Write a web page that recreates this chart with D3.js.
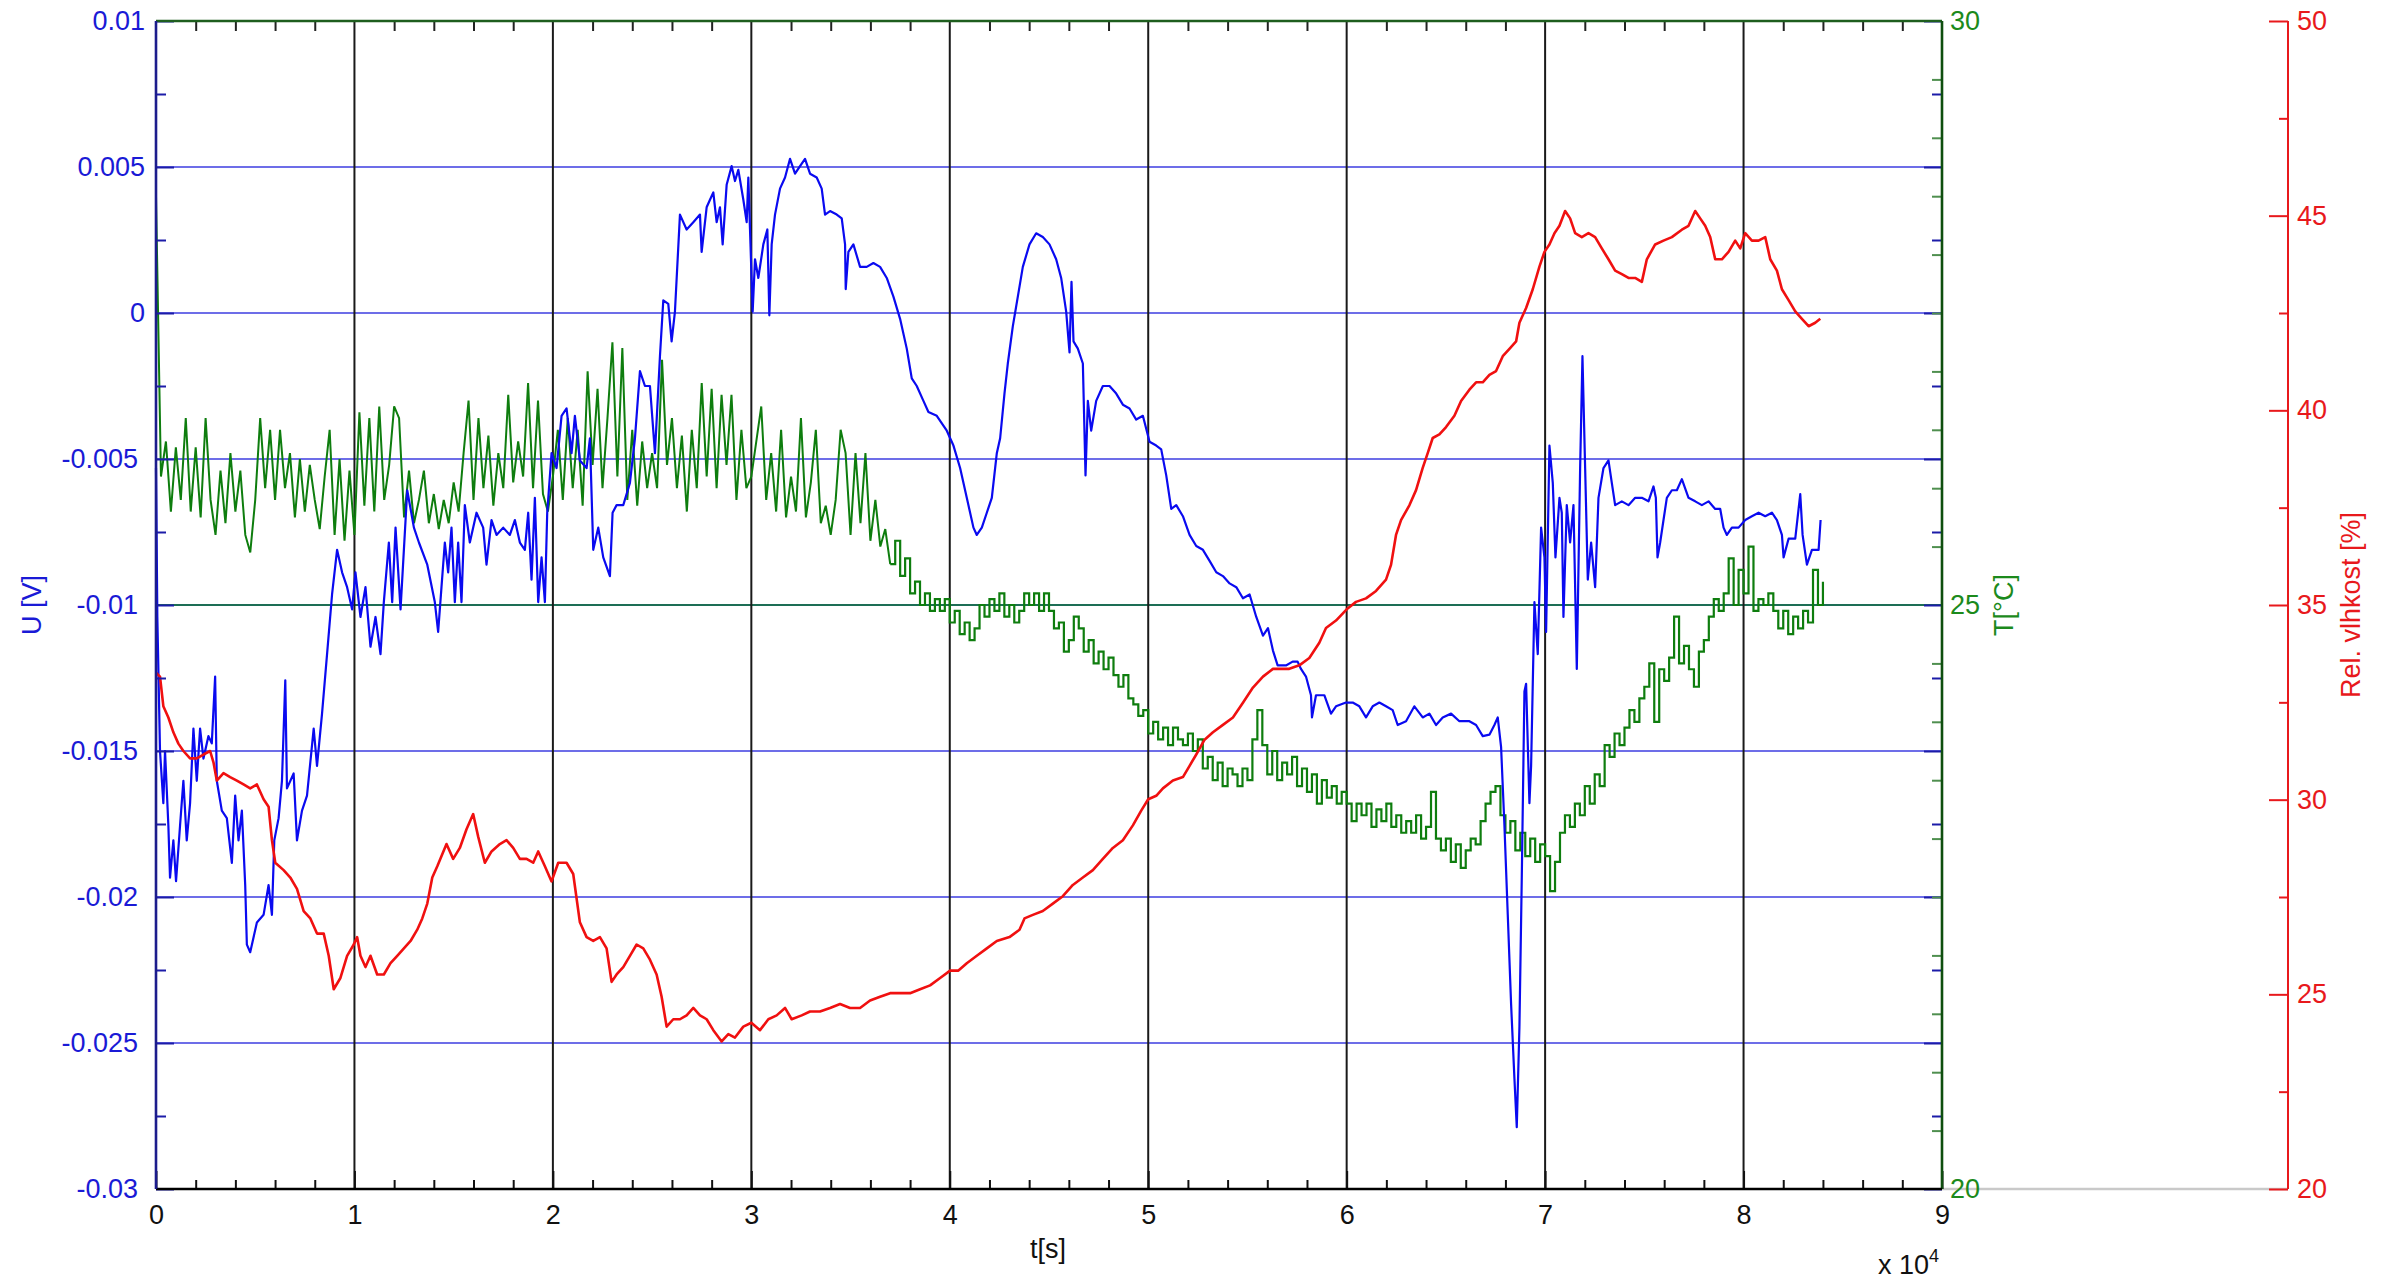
<!DOCTYPE html>
<html>
<head>
<meta charset="utf-8">
<script src="https://cdn.jsdelivr.net/npm/d3@7"></script>
<style>
  body { margin: 0; background: #fff; }
  svg { display: block; font-family: "Liberation Sans", Arial, sans-serif; }
</style>
</head>
<body>
<div id="chart"></div>
<script>
// ---- data ----
// time [s], voltage [V]
const voltage = [
  [0,-0.00531],[67,-0.01041],[202,-0.0150],[370,-0.01679],[455,-0.0150],[623,-0.01755],[707,-0.01934],[875,-0.01806],[1010,-0.01946],[1212,-0.01755],
  [1380,-0.01602],[1549,-0.01806],[1717,-0.01679],[1886,-0.01423],[2054,-0.01602],[2222,-0.01423],[2391,-0.01526],[2643,-0.01449],[2811,-0.01474],[2980,-0.01245],
  [3064,-0.01602],[3316,-0.01704],[3569,-0.0173],[3822,-0.01883],[3990,-0.01653],[4158,-0.01806],[4327,-0.01704],[4495,-0.01959],[4579,-0.02163],[4747,-0.02189],
  [5084,-0.02087],[5421,-0.02061],[5673,-0.01959],[5842,-0.02061],[5960,-0.01806],[6178,-0.0173],[6347,-0.01602],[6515,-0.01258],[6599,-0.01628],[6936,-0.01577],
  [7104,-0.01806],[7357,-0.01704],[7609,-0.01653],[7946,-0.01423],[8114,-0.01551],[8367,-0.01372],[8620,-0.01168],[8872,-0.00964],[9125,-0.00811],[9377,-0.00888],
  [9630,-0.00939],[9882,-0.01015],[10051,-0.00888],[10303,-0.01041],[10556,-0.00939],[10808,-0.01143],[11061,-0.01041],[11313,-0.01168],[11481,-0.0099],[11734,-0.00786],
  [11902,-0.0099],[12071,-0.00735],[12323,-0.01015],[12660,-0.00607],[12997,-0.00735],[13249,-0.00786],[13670,-0.00862],
  [14050,-0.0099],[14218,-0.01092],[14386,-0.00939],[14555,-0.00786],[14723,-0.00888],[14891,-0.00735],[15059,-0.0099],[15227,-0.00786],[15395,-0.0099],[15563,-0.00658],
  [15815,-0.00786],[16151,-0.00684],[16487,-0.00735],[16655,-0.00862],[16908,-0.00709],[17160,-0.0076],[17496,-0.00735],[17832,-0.0076],[18084,-0.00709],[18336,-0.00786],
  [18588,-0.00811],[18756,-0.00684],[18924,-0.00913],[19092,-0.00633],[19260,-0.0099],[19429,-0.00837],[19597,-0.0099],[19714,-0.00684],[19933,-0.0048],[20185,-0.00531],
  [20437,-0.00352],[20689,-0.00327],[20941,-0.0048],[21109,-0.00352],[21361,-0.00505],[21698,-0.00531],[21866,-0.00429],[22034,-0.00811],[22286,-0.00735],[22538,-0.00837],
  [22874,-0.00901],[23008,-0.00684],[23210,-0.00658],[23546,-0.00658],[23882,-0.00582],[24135,-0.00429],[24387,-0.00199],[24639,-0.0025],[24891,-0.0025],[25143,-0.0048],
  [25395,-0.00148],[25563,0.00043],[25815,0.00031],[25983,-0.00097],[26151,0.00005],[26403,0.00337],[26739,0.00286],[27076,0.00311],[27412,0.00337],[27496,0.00209],
  [27748,0.00362],[27916,0.00388],[28084,0.00413],[28252,0.00311],[28420,0.00362],[28555,0.00235],[28756,0.00439],[29008,0.00503],[29176,0.00452],[29345,0.0049],
  [29597,0.00388],[29765,0.00311],[29849,0.00464],[29933,0.00286],[30067,0.00005],[30185,0.00184],[30353,0.0012],[30605,0.00235],[30807,0.00286],[30908,-0.00008],
  [31025,0.00235],[31193,0.00337],[31445,0.00426],[31698,0.00464],[31950,0.00528],[32202,0.00477],[32454,0.00503],[32706,0.00528],[32958,0.00477],[33294,0.00464],
  [33546,0.00426],[33714,0.00337],[33966,0.00349],[34303,0.00337],[34555,0.00324],[34723,0.00235],[34756,0.00082],[34891,0.00209],[35143,0.00235],[35479,0.00158],
  [35815,0.00158],[36151,0.00171],[36487,0.00158],[36824,0.0012],[37160,0.00056],[37496,-0.0002],[37832,-0.00122],[38084,-0.00224],[38336,-0.0025],[38672,-0.00301],
  [38924,-0.00339],[39345,-0.00352],[39849,-0.00403],[40185,-0.00454],[40521,-0.00531],[40857,-0.00633],[41193,-0.00735],[41361,-0.0076],[41614,-0.00735],[41866,-0.00684],
  [42118,-0.00633],[42370,-0.0048],[42538,-0.00429],[42756,-0.00276],[42924,-0.00173],[43176,-0.00046],[43429,0.00056],[43681,0.00158],[44017,0.00235],[44353,0.00273],
  [44689,0.0026],[45025,0.00235],[45361,0.00184],[45613,0.0012],[45866,0.00005],[46034,-0.00135],[46134,0.00107],[46235,-0.00097],[46454,-0.00122],[46706,-0.00173],
  [46840,-0.00556],[46958,-0.00301],[47126,-0.00403],[47378,-0.00301],[47714,-0.0025],[48050,-0.0025],[48387,-0.00276],[48723,-0.00314],[49059,-0.00327],[49395,-0.00365],
  [49731,-0.00352],[50067,-0.00441],[50403,-0.00454],[50655,-0.00467],[50908,-0.00556],[51160,-0.00671],[51412,-0.00658],[51748,-0.00696],[52084,-0.0076],[52420,-0.00798],
  [52756,-0.00811],[53092,-0.00849],[53429,-0.00888],[53765,-0.00901],[54101,-0.00926],[54437,-0.00939],[54773,-0.00977],[55109,-0.00964],[55445,-0.01041],[55782,-0.01105],
  [56034,-0.01079],[56286,-0.01156],[56521,-0.01207],[56941,-0.01207],[57277,-0.01194],[57529,-0.01194],[57697,-0.01219],[57950,-0.01245],[58202,-0.01309],[58252,-0.01385],
  [58454,-0.01309],[58874,-0.01309],[59210,-0.01372],[59462,-0.01347],[59966,-0.01334],[60303,-0.01334],[60639,-0.01347],[60975,-0.01385],[61311,-0.01347],[61647,-0.01334],
  [61983,-0.01347],[62319,-0.0136],[62571,-0.01411],[62992,-0.01398],[63412,-0.01347],[63832,-0.01385],[64168,-0.01372],[64504,-0.01411],[64840,-0.01385],[65261,-0.01372],
  [65681,-0.01398],[66185,-0.01398],[66521,-0.01411],[66857,-0.01449],[67193,-0.01444],[67445,-0.01411],[67613,-0.01385],[67782,-0.01487],[67950,-0.01755],[68118,-0.02061],
  [68286,-0.02367],[68454,-0.02622],[68572,-0.02788],[68706,-0.02444],[68824,-0.01934],[68958,-0.01296],[69042,-0.0127],[69210,-0.01679],[69294,-0.01551],[69462,-0.0099],
  [69630,-0.01168],[69798,-0.00735],[69966,-0.00837],[70050,-0.01092],[70218,-0.00454],[70387,-0.00582],[70521,-0.00837],[70723,-0.00633],[70840,-0.00684],[70924,-0.01041],
  [71092,-0.00658],[71260,-0.00786],[71429,-0.00658],[71597,-0.01219],[71765,-0.00531],[71882,-0.00148],[72017,-0.00531],[72151,-0.00913],[72319,-0.00786],[72521,-0.00939],
  [72689,-0.00633],[72941,-0.00531],[73193,-0.00505],[73361,-0.00582],[73529,-0.00658],[73866,-0.00645],[74202,-0.00658],[74538,-0.00633],[74874,-0.00633],[75210,-0.00645],
  [75462,-0.00594],[75580,-0.00633],[75664,-0.00837],[75798,-0.00786],[75966,-0.00709],[76134,-0.00633],[76387,-0.00607],[76639,-0.00607],[76891,-0.00569],[77227,-0.00633],
  [77563,-0.00645],[77899,-0.00658],[78235,-0.00645],[78571,-0.00671],[78824,-0.00671],[78992,-0.00735],[79160,-0.0076],[79412,-0.00735],[79748,-0.00735],[80084,-0.00709],
  [80420,-0.00696],[80756,-0.00684],[81092,-0.00696],[81429,-0.00684],[81681,-0.00709],[81933,-0.0076],[82017,-0.00837],[82269,-0.00773],[82605,-0.00773],[82857,-0.0062],
  [82975,-0.0076],[83193,-0.00862],[83445,-0.00811],[83782,-0.00811],[83882,-0.00709]
];

// time [s], relative humidity [%]
const humidity = [
  [0,33.26],[202,33.16],[370,32.4],[623,32.11],[875,31.73],[1128,31.44],[1380,31.25],[1717,31.06],[2054,31.06],[2391,31.16],
  [2727,31.25],[2896,30.96],[3064,30.49],[3401,30.68],[3737,30.58],[4074,30.49],[4411,30.39],[4747,30.29],[5084,30.39],[5421,30.01],
  [5673,29.82],[5842,28.96],[6010,28.38],[6431,28.19],[6768,28.0],[7104,27.71],[7441,27.14],[7778,26.95],[8114,26.56],[8451,26.56],
  [8704,25.99],[8956,25.13],[9293,25.42],[9630,25.99],[9966,26.28],[10135,26.47],[10303,25.99],[10556,25.7],[10808,25.99],[11145,25.51],
  [11481,25.51],[11818,25.8],[12155,25.99],[12492,26.18],[12828,26.37],[13165,26.66],[13418,26.95],[13670,27.33],[13922,28.0],[14175,28.29],
  [14639,28.86],[14975,28.48],[15311,28.76],[15647,29.24],[15983,29.63],[16235,29.05],[16571,28.38],[16908,28.67],[17328,28.86],[17664,28.96],
  [18000,28.76],[18336,28.48],[18672,28.48],[19008,28.38],[19260,28.67],[19597,28.29],[19933,27.9],[20269,28.38],[20689,28.38],[21025,28.09],
  [21361,26.85],[21698,26.47],[22034,26.37],[22370,26.47],[22706,26.18],[22958,25.32],[23210,25.51],[23546,25.7],[23882,25.99],[24219,26.28],
  [24555,26.18],[24891,25.89],[25227,25.51],[25479,24.94],[25731,24.17],[26067,24.36],[26403,24.36],[26739,24.46],[27076,24.65],[27412,24.46],
  [27748,24.36],[28084,24.08],[28504,23.79],[28840,23.98],[29176,23.89],[29597,24.17],[30000,24.27],[30437,24.08],[30857,24.36],[31277,24.46],
  [31698,24.65],[32034,24.36],[32538,24.46],[32958,24.56],[33462,24.56],[33966,24.65],[34471,24.75],[34975,24.65],[35479,24.65],[35983,24.84],
  [36487,24.94],[36992,25.03],[37496,25.03],[38000,25.03],[38504,25.13],[39008,25.23],[39513,25.42],[40017,25.61],[40437,25.61],[40857,25.8],
  [41361,25.99],[41866,26.18],[42370,26.37],[43008,26.47],[43513,26.66],[43765,26.95],[44185,27.04],[44689,27.14],[45193,27.33],[45697,27.52],
  [46202,27.81],[46706,28.0],[47210,28.19],[47714,28.48],[48218,28.76],[48723,28.96],[49227,29.34],[49647,29.72],[50000,30.01],[50403,30.1],
  [50740,30.29],[51244,30.49],[51748,30.58],[52084,30.87],[52420,31.16],[52840,31.54],[53261,31.73],[53765,31.92],[54269,32.11],[54773,32.49],
  [55277,32.88],[55782,33.16],[56286,33.36],[57109,33.36],[57613,33.45],[58118,33.64],[58622,34.03],[58958,34.41],[59462,34.6],[60000,34.89],
  [60471,35.08],[60975,35.17],[61479,35.36],[61983,35.65],[62235,36.03],[62487,36.8],[62740,37.18],[63160,37.56],[63496,37.95],[63832,38.52],
  [64084,38.9],[64336,39.29],[64672,39.38],[65008,39.57],[65429,39.86],[65765,40.24],[66185,40.53],[66521,40.72],[66857,40.72],[67193,40.91],
  [67529,41.01],[67866,41.39],[68202,41.58],[68538,41.77],[68706,42.25],[69042,42.63],[69378,43.11],[69714,43.69],[69966,44.07],[70218,44.26],
  [70471,44.55],[70723,44.74],[71008,45.12],[71260,44.93],[71513,44.55],[71849,44.45],[72185,44.55],[72521,44.45],[72857,44.16],[73193,43.88],
  [73529,43.59],[73866,43.5],[74202,43.4],[74538,43.4],[74874,43.3],[75126,43.88],[75546,44.26],[75966,44.36],[76387,44.45],[76891,44.64],
  [77227,44.74],[77563,45.12],[77815,44.93],[78067,44.74],[78319,44.45],[78571,43.88],[78908,43.88],[79244,44.07],[79580,44.36],[79832,44.16],
  [80084,44.55],[80420,44.36],[80756,44.36],[81092,44.45],[81345,43.88],[81681,43.59],[81933,43.11],[82269,42.83],[82605,42.54],[82941,42.35],
  [83277,42.16],[83613,42.25],[83866,42.35]
];

// temperature [°C], one sample every tempStep seconds starting at t = 0
const tempStep = 250;
const temperature = [
  28.5,26.1,26.4,25.8,26.35,25.9,26.6,25.8,26.35,25.75,26.6,25.9,25.6,26.15,25.7,26.3,25.8,26.15,25.6,25.45,
  25.9,26.6,26.0,26.5,25.9,26.5,26.0,26.3,25.75,26.25,25.8,26.2,25.9,25.65,26.1,26.5,25.6,26.25,25.55,26.15,
  25.6,26.65,25.85,26.6,25.8,26.7,25.9,26.2,26.7,26.6,25.75,26.15,25.7,25.9,26.15,25.7,25.95,25.65,25.9,25.7,
  26.05,25.8,26.3,26.75,25.9,26.6,26.0,26.45,25.85,26.3,26.0,26.8,26.05,26.4,26.1,26.9,26.0,26.75,25.95,25.8,
  26.1,26.5,25.9,26.6,26.0,26.5,25.85,27.0,26.2,26.85,26.0,26.6,27.25,26.1,27.2,25.9,26.5,25.85,26.4,26.0,
  26.3,26.0,27.1,26.2,26.6,26.0,26.45,25.8,26.5,26.0,26.9,26.1,26.85,26.0,26.8,26.2,26.8,25.9,26.5,26.0,
  26.1,26.4,26.7,25.9,26.3,25.8,26.5,25.75,26.1,25.8,26.6,25.75,26.05,26.5,25.7,25.85,25.6,25.9,26.5,26.3,
  25.6,26.3,25.7,26.3,25.55,25.9,25.5,25.65,25.35,25.55,25.25,25.4,25.1,25.2,25.0,25.1,24.95,25.05,24.95,25.05,
  24.85,24.95,24.75,24.85,24.7,24.8,25.0,24.9,25.05,24.95,25.1,24.9,25.0,24.85,24.95,25.1,25.0,25.1,24.95,25.1,
  24.95,24.8,24.85,24.6,24.7,24.9,24.8,24.6,24.7,24.5,24.6,24.45,24.55,24.4,24.3,24.4,24.2,24.15,24.05,24.1,
  23.9,24.0,23.85,23.95,23.8,23.95,23.85,23.8,23.9,23.75,23.85,23.6,23.7,23.5,23.65,23.45,23.6,23.55,23.45,23.6,
  23.5,23.85,24.1,23.8,23.55,23.75,23.5,23.65,23.55,23.7,23.45,23.6,23.4,23.55,23.3,23.5,23.35,23.45,23.3,23.4,
  23.3,23.15,23.3,23.2,23.3,23.1,23.25,23.15,23.3,23.1,23.2,23.05,23.15,23.05,23.2,23.0,23.1,23.4,23.0,22.9,
  23.0,22.8,22.95,22.75,22.9,23.0,22.95,23.15,23.3,23.4,23.45,23.2,23.05,23.15,22.9,23.05,22.85,23.0,22.8,22.95,
  22.85,22.55,22.8,23.05,23.2,23.1,23.3,23.2,23.45,23.3,23.55,23.45,23.8,23.7,23.9,23.8,23.95,24.1,24.0,24.2,
  24.3,24.5,24.0,24.45,24.35,24.55,24.9,24.5,24.65,24.45,24.3,24.6,24.7,24.9,25.05,24.95,25.1,25.4,25.0,25.3,
  25.1,25.5,24.95,25.05,25.0,25.1,24.95,24.8,24.95,24.75,24.9,24.8,24.95,24.85,25.3,25.0,25.2
];
// the fast-fluctuating part of the temperature record ends here (index into temperature)
const tempNoisyEnd = 148;

// ticks
const xMajor = [0, 10000, 20000, 30000, 40000, 50000, 60000, 70000, 80000, 90000];
const xMinor = d3.range(0, 90001, 2000).filter(v => v % 10000 !== 0);
const uMajor = [-0.03, -0.025, -0.02, -0.015, -0.01, -0.005, 0, 0.005, 0.01];
const uMinor = [-0.0275, -0.0225, -0.0175, -0.0125, -0.0075, -0.0025, 0.0025, 0.0075];
const tLabels = [20, 25, 30];
const tMinor = d3.range(20.5, 30, 0.5).filter(v => v !== 25);
const hMajor = [20, 25, 30, 35, 40, 45, 50];
const hMinor = [22.5, 27.5, 32.5, 37.5, 42.5, 47.5];

// ---- layout ----
const W = 2389, H = 1282;
const plotL = 156, plotR = 1942, plotT = 21, plotB = 1189, humX = 2288;
const fs = 27;

const blue = "#1a1ad6", green = "#1c8a1c", red = "#e8191c";

const x = d3.scaleLinear().domain([0, 90000]).range([plotL, plotR]);
const yU = d3.scaleLinear().domain([-0.03, 0.01]).range([plotB, plotT]);
const yT = d3.scaleLinear().domain([20, 30]).range([plotB, plotT]);
const yH = d3.scaleLinear().domain([20, 50]).range([plotB, plotT]);

const svg = d3.select("#chart").append("svg")
    .attr("width", W)
    .attr("height", H)
    .attr("viewBox", [0, 0, W, H]);

// grey base line running out to the humidity axis
svg.append("line")
    .attr("x1", plotR).attr("x2", humX)
    .attr("y1", plotB).attr("y2", plotB)
    .attr("stroke", "#c9c9c9").attr("stroke-width", 2.5);

// horizontal grid (voltage)
svg.append("g")
  .selectAll("line")
  .data(uMajor.filter(v => v > -0.03 && v < 0.01))
  .join("line")
    .attr("x1", plotL).attr("x2", plotR)
    .attr("y1", d => yU(d)).attr("y2", d => yU(d))
    .attr("stroke", "#3c3ce0").attr("stroke-width", 1.6);

// temperature grid line at 25 °C sits on the -0.01 V line
svg.append("line")
    .attr("x1", plotL).attr("x2", plotR)
    .attr("y1", yT(25)).attr("y2", yT(25))
    .attr("stroke", "#1d6e55").attr("stroke-width", 2);

// vertical grid
svg.append("g")
  .selectAll("line")
  .data(xMajor.slice(1, -1))
  .join("line")
    .attr("x1", d => x(d)).attr("x2", d => x(d))
    .attr("y1", plotT).attr("y2", plotB)
    .attr("stroke", "#1a1a1a").attr("stroke-width", 2);

// ---- series ----
const tempPts = temperature.map((v, i) => [i * tempStep, v]);

svg.append("path")
    .datum(tempPts.slice(0, tempNoisyEnd + 1))
    .attr("fill", "none")
    .attr("stroke", "#0e7d0e")
    .attr("stroke-width", 2)
    .attr("d", d3.line().x(d => x(d[0])).y(d => yT(d[1])));

svg.append("path")
    .datum(tempPts.slice(tempNoisyEnd))
    .attr("fill", "none")
    .attr("stroke", "#0e7d0e")
    .attr("stroke-width", 2.2)
    .attr("d", d3.line().curve(d3.curveStepAfter).x(d => x(d[0])).y(d => yT(d[1])));

svg.append("path")
    .datum(voltage)
    .attr("fill", "none")
    .attr("stroke", "#0a0af0")
    .attr("stroke-width", 2.2)
    .attr("stroke-linejoin", "round")
    .attr("d", d3.line().x(d => x(d[0])).y(d => yU(d[1])));

svg.append("path")
    .datum(humidity)
    .attr("fill", "none")
    .attr("stroke", "#f01010")
    .attr("stroke-width", 2.6)
    .attr("stroke-linejoin", "round")
    .attr("d", d3.line().x(d => x(d[0])).y(d => yH(d[1])));

// ---- axes ----
function clean(g, color, sw) {
  g.select(".domain").remove();
  g.selectAll(".tick line").attr("stroke", color).attr("stroke-width", sw || 2);
  g.selectAll(".tick text").attr("fill", color).attr("font-size", fs)
    .attr("font-family", "'Liberation Sans', Arial, sans-serif");
}

const fmtU = d => d === 0 ? "0" : String(+d.toFixed(4));

// bottom
svg.append("g").attr("transform", `translate(0,${plotB})`)
    .call(d3.axisBottom(x).tickValues(xMinor).tickSize(-9).tickFormat(""))
    .call(g => clean(g, "#111"));
svg.append("g").attr("transform", `translate(0,${plotB})`)
    .call(d3.axisBottom(x).tickValues(xMajor).tickSize(-18).tickPadding(16).tickFormat(d => d / 10000))
    .call(g => clean(g, "#111"));
// top
svg.append("g").attr("transform", `translate(0,${plotT})`)
    .call(d3.axisTop(x).tickValues(xMinor).tickSize(-10).tickFormat(""))
    .call(g => clean(g, "#222"));

// left voltage axis
svg.append("g").attr("transform", `translate(${plotL},0)`)
    .call(d3.axisLeft(yU).tickValues(uMinor).tickSize(-10).tickFormat(""))
    .call(g => clean(g, "#1c1ca8"));
svg.append("g").attr("transform", `translate(${plotL},0)`)
    .call(d3.axisLeft(yU).tickValues(uMajor).tickSize(-18).tickPadding(11).tickFormat(fmtU))
    .call(g => clean(g, "#1c1ca8"))
    .call(g => g.selectAll(".tick text").attr("fill", blue).attr("dx", d => d < 0 ? -7 : 0));

// right side: voltage ticks and temperature axis
svg.append("g").attr("transform", `translate(${plotR},0)`)
    .call(d3.axisRight(yU).tickValues(uMinor).tickSize(-10).tickFormat(""))
    .call(g => clean(g, "#1c1ca8"));
svg.append("g").attr("transform", `translate(${plotR},0)`)
    .call(d3.axisRight(yU).tickValues(uMajor).tickSize(-18).tickFormat(""))
    .call(g => clean(g, "#1c1ca8"));
svg.append("g").attr("transform", `translate(${plotR},0)`)
    .call(d3.axisRight(yT).tickValues(tMinor).tickSize(-10).tickFormat(""))
    .call(g => clean(g, "#4f8f4f"));
svg.append("g").attr("transform", `translate(${plotR},0)`)
    .call(d3.axisRight(yT).tickValues(tLabels).tickSize(0).tickPadding(8))
    .call(g => clean(g, green));

// humidity axis
svg.append("g").attr("transform", `translate(${humX},0)`)
    .call(d3.axisRight(yH).tickValues(hMinor).tickSize(-9).tickFormat(""))
    .call(g => clean(g, red));
svg.append("g").attr("transform", `translate(${humX},0)`)
    .call(d3.axisRight(yH).tickValues(hMajor).tickSize(-19).tickPadding(9))
    .call(g => clean(g, red));

// frame
const frame = [
  {x1: plotL, y1: plotT, x2: plotR, y2: plotT, c: "#1e5e1e"},
  {x1: plotR, y1: plotT, x2: plotR, y2: plotB, c: "#0f4f0f"},
  {x1: plotL, y1: plotB, x2: plotR, y2: plotB, c: "#000"},
  {x1: plotL, y1: plotT, x2: plotL, y2: plotB, c: "#1c1c8c"},
  {x1: humX, y1: plotT, x2: humX, y2: plotB, c: red}
];
svg.append("g").selectAll("line").data(frame).join("line")
    .attr("x1", d => d.x1).attr("y1", d => d.y1)
    .attr("x2", d => d.x2).attr("y2", d => d.y2)
    .attr("stroke", d => d.c)
    .attr("stroke-width", d => d.c === red ? 2 : 2.6);

// ---- axis titles ----
const midY = (plotT + plotB) / 2;
svg.append("text")
    .attr("transform", `translate(32,${midY}) rotate(-90)`)
    .attr("text-anchor", "middle").attr("dominant-baseline", "central")
    .attr("font-size", fs).attr("fill", blue)
    .text("U [V]");

svg.append("text")
    .attr("transform", `translate(2004,${midY}) rotate(-90)`)
    .attr("text-anchor", "middle").attr("dominant-baseline", "central")
    .attr("font-size", fs).attr("fill", green)
    .text("T[°C]");

svg.append("text")
    .attr("transform", `translate(2351,${midY}) rotate(-90)`)
    .attr("text-anchor", "middle").attr("dominant-baseline", "central")
    .attr("font-size", fs).attr("fill", red)
    .text("Rel. vlhkost [%]");

svg.append("text")
    .attr("x", (plotL + plotR) / 2 - 1).attr("y", 1258)
    .attr("text-anchor", "middle")
    .attr("font-size", fs).attr("fill", "#111")
    .text("t[s]");

const expLabel = svg.append("text")
    .attr("x", 1878).attr("y", 1274)
    .attr("font-size", fs).attr("fill", "#111");
expLabel.append("tspan").text("x 10");
expLabel.append("tspan").attr("dy", -12).attr("font-size", 18).text("4");
</script>
</body>
</html>
